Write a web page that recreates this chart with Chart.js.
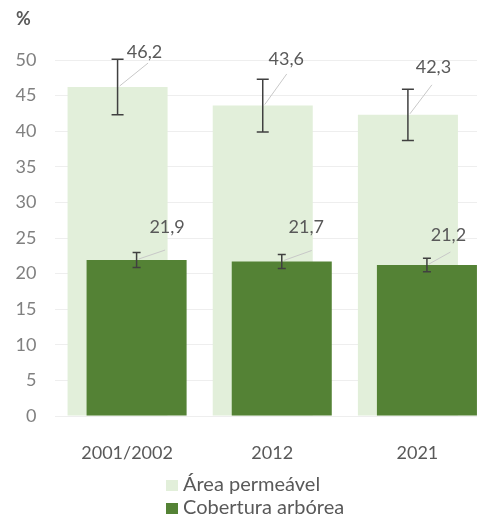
<!DOCTYPE html>
<html>
<head>
<meta charset="utf-8">
<script src="https://cdn.jsdelivr.net/npm/chart.js@4"></script>
<style>
html,body{margin:0;padding:0;background:#fff;overflow:hidden;}
canvas{display:block;}
</style>
</head>
<body>
<canvas id="c" width="495" height="517"></canvas>
<script>
const categories = ['2001/2002', '2012', '2021'];
const areaPermeavel = [46.2, 43.6, 42.3];
const coberturaArborea = [21.9, 21.7, 21.2];
const errPermeavel = [3.9, 3.7, 3.6];
const errArborea = [1.05, 1.0, 0.95];
const seriesNames = ['Área permeável', 'Cobertura arbórea'];
const yTicks = [0, 5, 10, 15, 20, 25, 30, 35, 40, 45, 50];

const FONT = 'Lato, "Open Sans", sans-serif';
const LIGHT = '#e2efda';
const DARK = '#548235';

// label placement offsets (pixels, relative to bar top centre)
const labelStyle = [
  { lab: [[27, -35], [23.5, -46.6], [25.5, -48]], line: [[30.5, -24], [24, -31.6], [24, -30]], cap: 6 },
  { lab: [[30.5, -33], [24.5, -34.5], [21.5, -30]], line: [[28.5, -10], [30, -11], [23.5, -13]], cap: 4 }
];
const errors = [errPermeavel, errArborea];

const overlay = {
  id: 'overlay',
  beforeDatasetsDraw(chart) {
    // draw the light (back) series first, then let the dark one be drawn on top
    chart.getDatasetMeta(0).controller.draw();
  },
  beforeDatasetDraw(chart, args) {
    if (args.index === 0) return false;
  },
  afterDatasetsDraw(chart) {
    const ctx = chart.ctx;
    const y = chart.scales.y;
    chart.data.datasets.forEach((ds, di) => {
      const meta = chart.getDatasetMeta(di);
      meta.data.forEach((bar, i) => {
        const v = ds.data[i];
        const e = errors[di][i];
        const cx = bar.x, top = bar.y;
        const st = labelStyle[di];
        ctx.save();
        ctx.strokeStyle = '#c8c8c8';
        ctx.lineWidth = 1;
        ctx.beginPath();
        ctx.moveTo(cx + 2, top - 1);
        ctx.lineTo(cx + st.line[i][0], top + st.line[i][1]);
        ctx.stroke();
        const yt = y.getPixelForValue(v + e), yb = y.getPixelForValue(v - e);
        ctx.strokeStyle = '#404040';
        ctx.lineWidth = 1.5;
        ctx.beginPath();
        ctx.moveTo(cx, yt); ctx.lineTo(cx, yb);
        ctx.moveTo(cx - st.cap, yt); ctx.lineTo(cx + st.cap, yt);
        ctx.moveTo(cx - st.cap, yb); ctx.lineTo(cx + st.cap, yb);
        ctx.stroke();
        ctx.fillStyle = '#595959';
        ctx.font = '18px ' + FONT;
        ctx.textAlign = 'center';
        ctx.textBaseline = 'middle';
        ctx.fillText(v.toFixed(1).replace('.', ','), cx + st.lab[i][0], top + st.lab[i][1]);
        ctx.restore();
      });
    });
  },
  afterDraw(chart) {
    const ctx = chart.ctx;
    ctx.save();
    ctx.fillStyle = '#595959';
    ctx.font = 'bold 18px ' + FONT;
    ctx.textAlign = 'left';
    ctx.textBaseline = 'middle';
    ctx.fillText('%', 16, 19);
    const cols = [LIGHT, DARK];
    const ys = [485, 508];
    ctx.font = '20px ' + FONT;
    seriesNames.forEach((n, k) => {
      ctx.fillStyle = cols[k];
      ctx.fillRect(166, ys[k] - 5, 12, 11);
      ctx.fillStyle = '#595959';
      ctx.fillText(n, 183, ys[k]);
    });
    ctx.restore();
  }
};

new Chart(document.getElementById('c'), {
  type: 'bar',
  data: {
    labels: categories,
    datasets: [
      { label: seriesNames[0], data: areaPermeavel, backgroundColor: LIGHT },
      { label: seriesNames[1], data: coberturaArborea, backgroundColor: DARK }
    ]
  },
  options: {
    responsive: false,
    animation: false,
    devicePixelRatio: 1,
    categoryPercentage: 0.262,
    barPercentage: 5.26,
    layout: { padding: { top: 60, right: 5, left: 0, bottom: 0 } },
    plugins: { legend: { display: false }, tooltip: { enabled: false } },
    scales: {
      x: {
        grid: { display: false },
        border: { display: false },
        ticks: { color: '#595959', font: { family: FONT, size: 18 }, padding: 18 },
        afterFit(s) { s.height = 101; }
      },
      y: {
        min: 0, max: 50,
        afterBuildTicks(s) { s.ticks = yTicks.map(v => ({ value: v })); },
        grid: { color: '#eeeeee', drawTicks: false },
        border: { display: false },
        ticks: { color: '#808080', font: { family: FONT, size: 18 }, padding: 18 },
        afterFit(s) { s.width = 54.5; }
      }
    }
  },
  plugins: [overlay]
});
</script>
</body>
</html>
